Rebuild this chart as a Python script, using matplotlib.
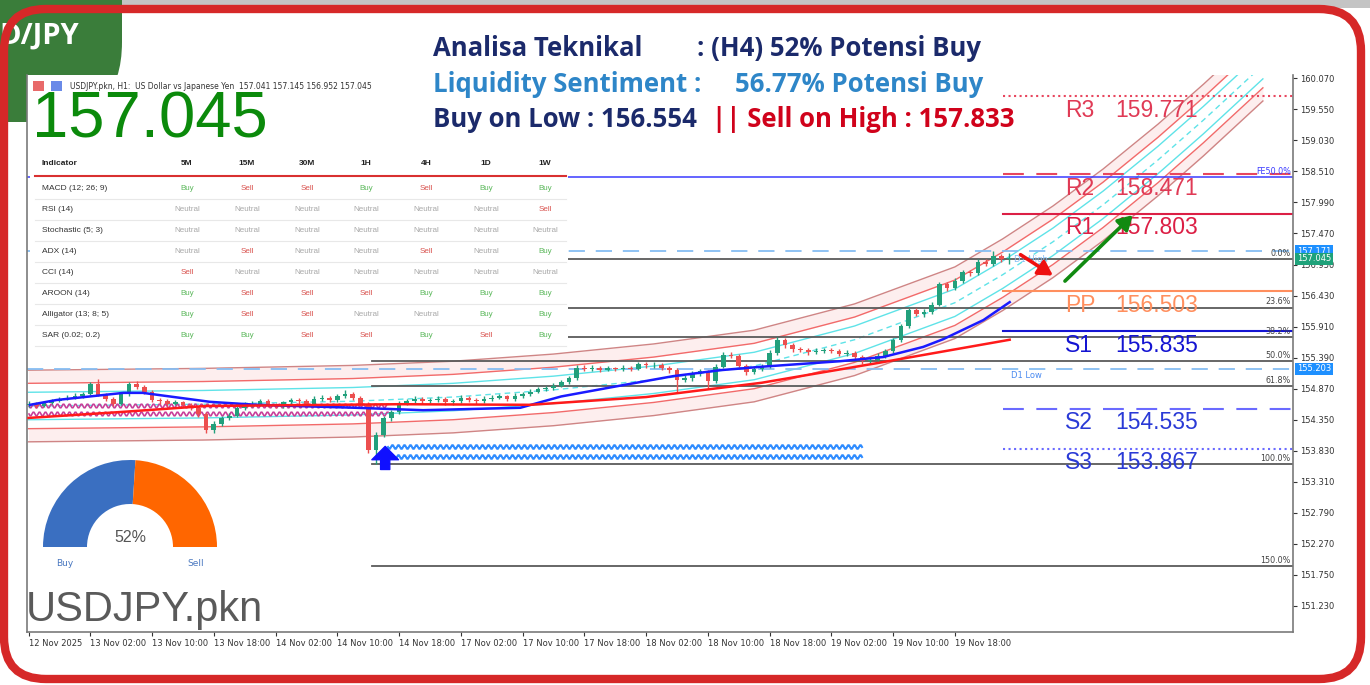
import matplotlib
matplotlib.use("Agg")
import matplotlib.pyplot as plt
from matplotlib.patches import FancyBboxPatch, Rectangle, Wedge
from matplotlib.transforms import blended_transform_factory

# ---------------- data ----------------
first_open = 154.60
closes = [154.62, 154.58, 154.63, 154.66, 154.70, 154.72, 154.75, 154.78, 154.95, 154.76,
          154.70, 154.62, 154.78, 154.95, 154.90, 154.82, 154.68, 154.66, 154.62, 154.64,
          154.60, 154.55, 154.45, 154.18, 154.28, 154.38, 154.42, 154.55, 154.60, 154.62,
          154.66, 154.60, 154.58, 154.64, 154.68, 154.66, 154.62, 154.70, 154.72, 154.68,
          154.74, 154.78, 154.72, 154.62, 153.85, 154.10, 154.38, 154.48, 154.62, 154.66,
          154.70, 154.66, 154.68, 154.70, 154.64, 154.66, 154.72, 154.68, 154.66, 154.70,
          154.72, 154.74, 154.70, 154.75, 154.78, 154.82, 154.86, 154.88, 154.92, 154.98,
          155.05, 155.22, 155.20, 155.22, 155.19, 155.21, 155.20, 155.22, 155.20, 155.28,
          155.26, 155.27, 155.22, 155.18, 155.02, 155.05, 155.12, 155.16, 155.00, 155.24,
          155.44, 155.42, 155.25, 155.15, 155.20, 155.25, 155.47, 155.68, 155.60, 155.53,
          155.52, 155.48, 155.50, 155.52, 155.50, 155.45, 155.47, 155.40, 155.33, 155.35,
          155.42, 155.50, 155.68, 155.92, 156.18, 156.12, 156.15, 156.28, 156.62, 156.55,
          156.68, 156.82, 156.80, 157.00, 156.96, 157.10, 157.041, 157.045]
highs = [154.66, 154.65, 154.66, 154.70, 154.73, 154.76, 154.80, 154.82, 154.98, 155.04,
         154.80, 154.73, 154.81, 154.99, 155.00, 154.93, 154.84, 154.72, 154.69, 154.68,
         154.67, 154.63, 154.58, 154.48, 154.33, 154.42, 154.47, 154.58, 154.64, 154.66,
         154.70, 154.69, 154.63, 154.67, 154.72, 154.71, 154.69, 154.74, 154.76, 154.75,
         154.78, 154.84, 154.81, 154.75, 154.65, 154.14, 154.42, 154.52, 154.66, 154.70,
         154.74, 154.73, 154.72, 154.74, 154.73, 154.70, 154.76, 154.75, 154.71, 154.74,
         154.76, 154.78, 154.77, 154.79, 154.82, 154.86, 154.90, 154.92, 154.96, 155.02,
         155.09, 155.26, 155.26, 155.26, 155.25, 155.25, 155.24, 155.27, 155.25, 155.32,
         155.31, 155.31, 155.30, 155.25, 155.21, 155.10, 155.16, 155.20, 155.19, 155.28,
         155.48, 155.48, 155.45, 155.28, 155.25, 155.29, 155.51, 155.73, 155.72, 155.63,
         155.57, 155.56, 155.55, 155.56, 155.55, 155.53, 155.51, 155.50, 155.43, 155.39,
         155.46, 155.54, 155.72, 155.96, 156.22, 156.22, 156.20, 156.32, 156.66, 156.66,
         156.72, 156.86, 156.86, 157.04, 157.04, 157.17, 157.13, 157.145]
lows = [154.56, 154.55, 154.56, 154.61, 154.64, 154.68, 154.70, 154.72, 154.76, 154.74,
        154.66, 154.58, 154.60, 154.75, 154.86, 154.78, 154.64, 154.62, 154.58, 154.59,
        154.56, 154.51, 154.40, 154.12, 154.12, 154.24, 154.34, 154.40, 154.52, 154.57,
        154.59, 154.57, 154.54, 154.55, 154.61, 154.62, 154.58, 154.60, 154.67, 154.64,
        154.65, 154.71, 154.68, 154.58, 153.80, 153.61, 154.06, 154.33, 154.45, 154.59,
        154.63, 154.62, 154.63, 154.65, 154.60, 154.60, 154.63, 154.64, 154.62, 154.63,
        154.67, 154.69, 154.66, 154.67, 154.72, 154.75, 154.79, 154.83, 154.85, 154.89,
        154.95, 155.02, 155.16, 155.17, 155.15, 155.16, 155.16, 155.17, 155.16, 155.18,
        155.22, 155.22, 155.18, 155.14, 154.82, 154.98, 155.00, 155.08, 154.86, 154.97,
        155.21, 155.38, 155.20, 155.10, 155.11, 155.16, 155.22, 155.44, 155.56, 155.49,
        155.48, 155.44, 155.45, 155.47, 155.46, 155.41, 155.42, 155.36, 155.29, 155.30,
        155.32, 155.39, 155.47, 155.65, 155.89, 156.08, 156.07, 156.12, 156.25, 156.50,
        156.52, 156.64, 156.76, 156.77, 156.92, 156.93, 157.00, 156.952]
opens = [first_open] + closes[:-1]

# regression channel (centre line read at a few bars) and band offsets
chan_bars = [0, 22.6, 42, 55, 68, 81, 94, 107, 120, 126.2, 132.7, 139.2, 146.3, 152.2, 159.9]
chan_mid = [154.58, 154.61, 154.66, 154.73, 154.85, 155.02, 155.25, 155.69, 156.31,
            156.78, 157.33, 157.95, 158.70, 159.37, 160.29]
chan_cyan, chan_red, chan_brown = 0.23, 0.38, 0.60

# moving averages
blue_bars = [0.2, 3.6, 12.3, 14.8, 23.5, 29.5, 42.4, 51.1, 63.7, 69, 76.6, 83.5, 89.6,
             95.2, 105.1, 110.7, 115.9, 118.5, 123.7, 127.1]
blue_ma = [154.60, 154.68, 154.80, 154.80, 154.65, 154.60, 154.55, 154.51, 154.55, 154.74,
           154.92, 155.08, 155.18, 155.24, 155.33, 155.40, 155.57, 155.70, 156.02, 156.32]
red_bars = [0, 12, 23, 48, 65, 80, 95, 110, 127.1]
red_ma = [154.38, 154.48, 154.58, 154.61, 154.60, 154.73, 154.97, 155.30, 155.69]

# pivots
piv_names = ["R3", "R2", "R1", "PP", "S1", "S2", "S3"]
piv_vals = [159.771, 158.471, 157.803, 156.503, 155.835, 154.535, 153.867]
piv_colors = ["#e03a55", "#e03a55", "#dc1f45", "#ff8f5e", "#1414d2", "#2a3ad6", "#2a3ad6"]
piv_line_colors = ["#e8465e", "#e8465e", "#dc1f45", "#ff8f5e", "#1414d2", "#6a6aff", "#6a6aff"]
piv_styles = [":", (0, (10, 6)), "-", "-", "-", (0, (10, 6)), ":"]

# fibonacci retracement
fib_labels = ["0.0%", "23.6%", "38.2%", "50.0%", "61.8%", "100.0%", "150.0%"]
fib_prices = [157.04, 156.23, 155.73, 155.33, 154.92, 153.61, 151.90]

d1_high, d1_low = 157.171, 155.203
fe50 = 158.42
last_price = 157.045

ytick_vals = [151.230, 151.750, 152.270, 152.790, 153.310, 153.830, 154.350, 154.870,
              155.390, 155.910, 156.430, 156.950, 157.470, 157.990, 158.510, 159.030,
              159.550, 160.070]
xtick_bars = [0, 8, 16, 24, 32, 40, 48, 56, 64, 72, 80, 88, 96, 104, 112, 120]
xtick_labels = ["12 Nov 2025", "13 Nov 02:00", "13 Nov 10:00", "13 Nov 18:00", "14 Nov 02:00",
                "14 Nov 10:00", "14 Nov 18:00", "17 Nov 02:00", "17 Nov 10:00", "17 Nov 18:00",
                "18 Nov 02:00", "18 Nov 10:00", "18 Nov 18:00", "19 Nov 02:00", "19 Nov 10:00",
                "19 Nov 18:00"]

ind_names = ["MACD (12; 26; 9)", "RSI (14)", "Stochastic (5; 3)", "ADX (14)", "CCI (14)",
             "AROON (14)", "Alligator (13; 8; 5)", "SAR (0.02; 0.2)"]
timeframes = ["5M", "15M", "30M", "1H", "4H", "1D", "1W"]
signals = [
    ["Buy", "Sell", "Sell", "Buy", "Sell", "Buy", "Buy"],
    ["Neutral", "Neutral", "Neutral", "Neutral", "Neutral", "Neutral", "Sell"],
    ["Neutral", "Neutral", "Neutral", "Neutral", "Neutral", "Neutral", "Neutral"],
    ["Neutral", "Sell", "Neutral", "Neutral", "Sell", "Neutral", "Buy"],
    ["Sell", "Neutral", "Neutral", "Neutral", "Neutral", "Neutral", "Neutral"],
    ["Buy", "Sell", "Sell", "Sell", "Buy", "Buy", "Buy"],
    ["Buy", "Sell", "Sell", "Neutral", "Neutral", "Buy", "Buy"],
    ["Buy", "Buy", "Sell", "Sell", "Buy", "Sell", "Buy"],
]
sig_colors = {"Buy": "#5cb85c", "Sell": "#d9534f", "Neutral": "#a8a8a8"}
buy_pct = 52

# ---------------- figure ----------------
W, H = 1370, 685
fig = plt.figure(figsize=(13.7, 6.85), dpi=100, facecolor="white")

# background layer: top strip and green tab (the chart window sits on top of the tab)
bg = fig.add_axes([0, 0, 1, 1], zorder=0)
bg.set_xlim(0, W)
bg.set_ylim(H, 0)
bg.axis("off")
bg.add_patch(Rectangle((0, 0), W, 8, fc="#c4c4c4", ec="none"))
bg.add_patch(FancyBboxPatch((-120, -120), 120 + 122, 120 + 122,
                            boxstyle="round,pad=0,rounding_size=80", fc="#3a7d3a", ec="none"))
bg.text(-1, 36, "D/JPY", color="white", fontsize=21, weight="bold", family="Open Sans",
        ha="left", va="center")

ax = fig.add_axes([27 / W, 1 - 632 / H, (1293 - 27) / W, (632 - 75) / H], zorder=1)
ax.set_xlim(-0.2, 163.8)
ax.set_ylim(150.794, 160.125)
ax.set_facecolor("white")
for s in ["left", "bottom", "right"]:
    ax.spines[s].set_color("#7a7a7a")
    ax.spines[s].set_linewidth(1.2)
ax.spines["top"].set_visible(False)

ax.yaxis.tick_right()
ax.set_yticks(ytick_vals)
ax.set_yticklabels(["%.3f" % v for v in ytick_vals])
ax.set_xticks(xtick_bars)
ax.set_xticklabels(xtick_labels)
for lab in ax.get_xticklabels():
    lab.set_ha("left")
ax.tick_params(labelsize=6, colors="#333333", length=3, pad=2, width=0.8)

# channel
mid = chan_mid
ax.fill_between(chan_bars, [m + chan_red for m in mid], [m + chan_brown for m in mid],
                color="#fdeeee", lw=0, zorder=1)
ax.fill_between(chan_bars, [m - chan_red for m in mid], [m - chan_brown for m in mid],
                color="#fdeeee", lw=0, zorder=1)
for off, col in [(chan_brown, "#cf8585"), (chan_red, "#f26a6a"), (chan_cyan, "#5fe3e8")]:
    ax.plot(chan_bars, [m + off for m in mid], color=col, lw=1, zorder=1.5)
    ax.plot(chan_bars, [m - off for m in mid], color=col, lw=1, zorder=1.5)
ax.plot(chan_bars, mid, color="#5fe3e8", lw=1, ls=(0, (4, 3)), zorder=1.5)

# horizontal levels
ax.axhline(fe50, color="#3a3aff", lw=1.1, zorder=1.6)
ax.axhline(d1_high, color="#86bdf2", lw=1.3, ls=(0, (9, 6)), zorder=1.6)
ax.axhline(d1_low, color="#86bdf2", lw=1.3, ls=(0, (9, 6)), zorder=1.6)
for lab, p in zip(fib_labels, fib_prices):
    ax.plot([44.5, 163.8], [p, p], color="#5a5a5a", lw=1.3, zorder=1.7)
    ax.text(163.5, p + 0.02, lab, ha="right", va="bottom", fontsize=5.8, color="#444444")
ax.text(163.5, fe50 + 0.02, "FE50.0%", ha="right", va="bottom", fontsize=5.8, color="#3a3aff")
ax.text(127.3, d1_low - 0.04, "D1 Low", ha="left", va="top", fontsize=6, color="#4a8af0")
ax.text(127.6, d1_high - 0.06, "D1 High", ha="left", va="top", fontsize=6, color="#86bdf2")

# wavy zones
for y in [154.58, 154.45]:
    ln, = ax.plot([0, 46.5], [y, y], color="#c8409a", lw=1.2, zorder=2)
    ln.set_sketch_params(2.0, 6.0, 1.0)
for y in [153.89, 153.73]:
    ln, = ax.plot([46.5, 108], [y, y], color="#2f8cff", lw=1.5, zorder=2)
    ln.set_sketch_params(2.0, 6.0, 1.0)

# candles
for i in range(len(closes)):
    o, c = opens[i], closes[i]
    col = "#22a07c" if c >= o else "#ec4f4f"
    ax.vlines(i, lows[i], highs[i], color=col, lw=1, zorder=3)
    ax.bar(i, max(abs(c - o), 0.012), bottom=min(o, c), width=0.6, color=col, zorder=3.1)

# moving averages
ax.plot(blue_bars, blue_ma, color="#1a1aff", lw=1.8, zorder=4)
ax.plot(red_bars, red_ma, color="#ff1a1a", lw=1.8, zorder=4)

# pivots
for name, v, tc, lc, ls in zip(piv_names, piv_vals, piv_colors, piv_line_colors, piv_styles):
    ax.plot([126.2, 163.8], [v, v], color=lc, lw=1.5, ls=ls, zorder=2.5)
    ax.annotate(name, (134.3, v), xytext=(0, -2), textcoords="offset points",
                ha="left", va="top", fontsize=16.5, color=tc, family="Liberation Sans")
    ax.annotate("%.3f" % v, (140.8, v), xytext=(0, -2), textcoords="offset points",
                ha="left", va="top", fontsize=16.5, color=tc, family="Liberation Sans")

# arrows
ax.annotate("", xy=(46.2, 153.95), xytext=(46.2, 153.47),
            arrowprops=dict(arrowstyle="simple,head_length=0.8,head_width=1.6,tail_width=0.55",
                            color="#1010ff", mutation_scale=12), zorder=5)
ax.annotate("", xy=(133.0, 156.74), xytext=(128.2, 157.14),
            arrowprops=dict(arrowstyle="-|>,head_length=0.6,head_width=0.35", color="#ee1111",
                            lw=2.6, mutation_scale=14), zorder=5)
ax.annotate("", xy=(143.3, 157.81), xytext=(134.0, 156.64),
            arrowprops=dict(arrowstyle="-|>,head_length=0.6,head_width=0.35", color="#118a11",
                            lw=2.6, mutation_scale=14), zorder=5)

# price boxes on the right axis
bt = blended_transform_factory(ax.transAxes, ax.transData)
for val, fc in [(d1_high, "#1e90ff"), (last_price, "#1fa27a"), (d1_low, "#1e90ff")]:
    ax.text(1.003, val, "%.3f" % val, transform=bt, fontsize=6, color="white", va="center",
            ha="left", bbox=dict(fc=fc, ec="none", pad=1.2), zorder=6, clip_on=False)

# ---------------- overlay in pixel coordinates ----------------
ov = fig.add_axes([0, 0, 1, 1], zorder=5)
ov.set_xlim(0, W)
ov.set_ylim(H, 0)
ov.axis("off")
ov.patch.set_alpha(0)

ov.add_patch(FancyBboxPatch((4, 9), 1357, 670, boxstyle="round,pad=0,rounding_size=42",
                            fc="none", ec="#d62828", lw=6))

# headline
tf = dict(family="Open Sans", weight="bold", fontsize=18.5, va="center", ha="left")
ov.text(433, 48, "Analisa Teknikal", color="#1b2a6b", **tf)
ov.text(697, 48, ": (H4) 52% Potensi Buy", color="#1b2a6b", **tf)
ov.text(433, 84, "Liquidity Sentiment :", color="#2e86c8", **tf)
ov.text(735, 84, "56.77% Potensi Buy", color="#2e86c8", **tf)
ov.text(433, 119, "Buy on Low : 156.554", color="#1b2a6b", **tf)
ov.text(712, 119, "|| Sell on High : 157.833", color="#d0021b", **tf)

# chart header and big price
ov.add_patch(Rectangle((33, 81), 11, 10, fc="#e86a6a", ec="none"))
ov.add_patch(Rectangle((51, 81), 11, 10, fc="#6a8ae8", ec="none"))
ov.text(70, 86, "USDJPY.pkn, H1:  US Dollar vs Japanese Yen  157.041 157.145 156.952 157.045",
        fontsize=5.5, color="#333333", va="center", ha="left")
ov.text(32, 120, "157.045", fontsize=47, color="#0b8a0b", family="Liberation Sans",
        va="center", ha="left")

# indicator table
ov.add_patch(Rectangle((30, 150), 538, 198, fc="white", ec="none"))
col_x = [187, 247, 307, 366, 426, 486, 545]
ov.text(42, 163, "Indicator", fontsize=6, weight="bold", color="#222222", va="center",
        family="Liberation Sans")
for x, tfm in zip(col_x, timeframes):
    ov.text(x, 163, tfm, fontsize=6, weight="bold", color="#222222", va="center", ha="center",
            family="Liberation Sans")
ov.plot([35, 566], [176, 176], color="#d93030", lw=1.5)
for r, (name, row) in enumerate(zip(ind_names, signals)):
    y = 188 + 21.1 * r
    ov.text(42, y, name, fontsize=6, color="#333333", va="center", family="Liberation Sans")
    for x, s in zip(col_x, row):
        ov.text(x, y, s, fontsize=5.8, color=sig_colors[s], va="center", ha="center",
                family="Liberation Sans")
    ov.plot([35, 566], [y + 10.5, y + 10.5], color="#e8e8e8", lw=0.8)

# gauge
split = 180 + buy_pct / 100 * 180
ov.add_patch(Wedge((130, 547), 87, 180, split, width=44, fc="#3a6fc1", ec="none"))
ov.add_patch(Wedge((130, 547), 87, split, 360, width=44, fc="#ff6600", ec="none"))
ov.text(130, 537, "%d%%" % buy_pct, fontsize=11.5, color="#555555", ha="center", va="center",
        family="Liberation Sans")
ov.text(65, 564, "Buy", fontsize=6.5, color="#4a78c0", ha="center", va="center")
ov.text(196, 564, "Sell", fontsize=6.5, color="#4a78c0", ha="center", va="center")

ov.text(26, 610, "USDJPY.pkn", fontsize=30, color="#5a5a5a", family="Liberation Sans",
        ha="left", va="center")

fig.savefig("out.png", dpi=100, facecolor=fig.get_facecolor())
